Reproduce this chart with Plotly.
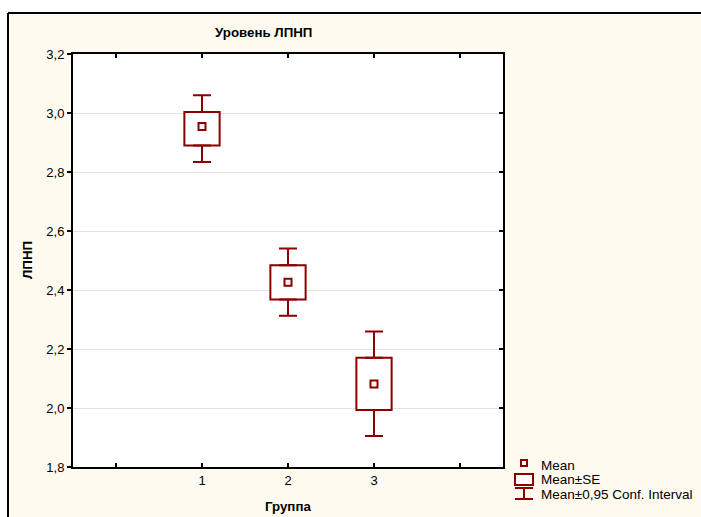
import plotly.graph_objects as go

# ---- data ----
groups = [1, 2, 3]
means = [2.954, 2.426, 2.081]
se_low = [2.890, 2.368, 1.993]
se_high = [3.003, 2.484, 2.170]
ci_low = [2.834, 2.313, 1.905]
ci_high = [3.060, 2.541, 2.259]
x_tickvals = [0, 1, 2, 3, 4]
x_ticktext = ["", "1", "2", "3", ""]
y_tickvals = [1.8, 2.0, 2.2, 2.4, 2.6, 2.8, 3.0, 3.2]

RED = "#8B0000"
CREAM = "#FFFAEF"
FONT = "Liberation Sans, Arial, sans-serif"

W, H = 701, 517
L, R, T, B = 73, 198, 54, 50
PW, PH = W - L - R, H - T - B


def px(x):
    return (x - L) / PW


def py(y):
    return (H - B - y) / PH


fig = go.Figure()

# SE boxes
fig.add_trace(go.Bar(
    x=groups,
    base=se_low,
    y=[h - l for h, l in zip(se_high, se_low)],
    width=0.41,
    marker=dict(color="white", line=dict(color=RED, width=2)),
    showlegend=False, hoverinfo="skip",
))
# CI whiskers (upper part, from box top)
fig.add_trace(go.Scatter(
    x=groups, y=se_high, mode="markers",
    marker=dict(size=1, color="rgba(0,0,0,0)"),
    error_y=dict(type="data", symmetric=False,
                 array=[c - s for c, s in zip(ci_high, se_high)],
                 arrayminus=[0, 0, 0],
                 color=RED, thickness=2, width=9),
    showlegend=False, hoverinfo="skip",
))
# CI whiskers (lower part, from box bottom)
fig.add_trace(go.Scatter(
    x=groups, y=se_low, mode="markers",
    marker=dict(size=1, color="rgba(0,0,0,0)"),
    error_y=dict(type="data", symmetric=False,
                 array=[0, 0, 0],
                 arrayminus=[s - c for s, c in zip(se_low, ci_low)],
                 color=RED, thickness=2, width=9),
    showlegend=False, hoverinfo="skip",
))
# means
fig.add_trace(go.Scatter(
    x=groups, y=means, mode="markers",
    marker=dict(symbol="square-open", size=7, color=RED, line=dict(width=2, color=RED)),
    showlegend=False,
))
# dummy trace for right y axis
fig.add_trace(go.Scatter(x=[None], y=[None], yaxis="y2", showlegend=False))

shapes = []
# white strips outside the cream frame
shapes.append(dict(type="rect", xref="paper", yref="paper", x0=px(-5), x1=px(W + 5),
                   y0=py(13), y1=py(-5), fillcolor="white", line=dict(width=0), layer="below"))
shapes.append(dict(type="rect", xref="paper", yref="paper", x0=px(-5), x1=px(8),
                   y0=py(H + 5), y1=py(-5), fillcolor="white", line=dict(width=0), layer="below"))
# frame lines
shapes.append(dict(type="line", xref="paper", yref="paper", x0=px(8), x1=px(W + 5),
                   y0=py(13), y1=py(13), line=dict(color="black", width=2)))
shapes.append(dict(type="line", xref="paper", yref="paper", x0=px(8), x1=px(8),
                   y0=py(13), y1=py(H + 5), line=dict(color="black", width=2)))

# legend symbols
lc = 524
shapes.append(dict(type="rect", xref="paper", yref="paper", x0=px(lc - 3), x1=px(lc + 3),
                   y0=py(466), y1=py(460), line=dict(color=RED, width=2), fillcolor="white"))
shapes.append(dict(type="rect", xref="paper", yref="paper", x0=px(515), x1=px(533),
                   y0=py(485), y1=py(474), line=dict(color=RED, width=2), fillcolor="white"))
shapes.append(dict(type="line", xref="paper", yref="paper", x0=px(515), x1=px(533),
                   y0=py(488), y1=py(488), line=dict(color=RED, width=2)))
shapes.append(dict(type="line", xref="paper", yref="paper", x0=px(515), x1=px(533),
                   y0=py(499), y1=py(499), line=dict(color=RED, width=2)))
shapes.append(dict(type="line", xref="paper", yref="paper", x0=px(lc), x1=px(lc),
                   y0=py(488), y1=py(499), line=dict(color=RED, width=2)))

annotations = []
for txt, yy in [("Mean", 465), ("Mean±SE", 479), ("Mean±0,95 Conf. Interval", 494)]:
    annotations.append(dict(text=txt, xref="paper", yref="paper", x=px(539), y=py(yy),
                            xanchor="left", yanchor="middle", showarrow=False,
                            font=dict(family=FONT, size=13.5, color="black")))
annotations.append(dict(text="<b>Уровень ЛПНП</b>", xref="paper", yref="paper",
                        x=px(263), y=py(32), xanchor="center", yanchor="middle",
                        showarrow=False, font=dict(family=FONT, size=13.3, color="black")))
annotations.append(dict(text="<b>Группа</b>", xref="paper", yref="paper",
                        x=px(288), y=py(507), xanchor="center", yanchor="middle",
                        showarrow=False, font=dict(family=FONT, size=13.3, color="black")))
annotations.append(dict(text="<b>ЛПНП</b>", xref="paper", yref="paper",
                        x=px(27), y=py(260), xanchor="center", yanchor="middle",
                        textangle=-90, showarrow=False,
                        font=dict(family=FONT, size=13.3, color="black")))

fig.update_layout(
    width=W, height=H,
    margin=dict(l=L, r=R, t=T, b=B, pad=0),
    paper_bgcolor=CREAM, plot_bgcolor="white",
    separators=", ",
    font=dict(family=FONT, size=13, color="black"),
    showlegend=False,
    shapes=shapes, annotations=annotations,
    xaxis=dict(range=[-0.5, 4.5], tickvals=x_tickvals, ticktext=x_ticktext,
               ticks="inside", ticklen=4, tickwidth=2, tickcolor="black",
               showline=True, linecolor="black", linewidth=2, mirror="ticks",
               showgrid=False, zeroline=False, fixedrange=True),
    yaxis=dict(range=[1.8, 3.2], tickvals=y_tickvals, tickformat=".1f",
               ticks="outside", ticklen=4, tickwidth=2, tickcolor="black",
               showline=True, linecolor="black", linewidth=2,
               showgrid=True, gridcolor="#E2E2E2", gridwidth=1, zeroline=False),
    yaxis2=dict(range=[1.8, 3.2], tickvals=y_tickvals, overlaying="y", side="right",
                ticks="inside", ticklen=4, tickwidth=2, tickcolor="black",
                showline=True, linecolor="black", linewidth=2,
                showticklabels=False, showgrid=False, zeroline=False),
)

fig.write_html("out.html", config={"displayModeBar": False},
               post_script="document.body.style.margin='0';document.body.style.overflow='hidden';")
